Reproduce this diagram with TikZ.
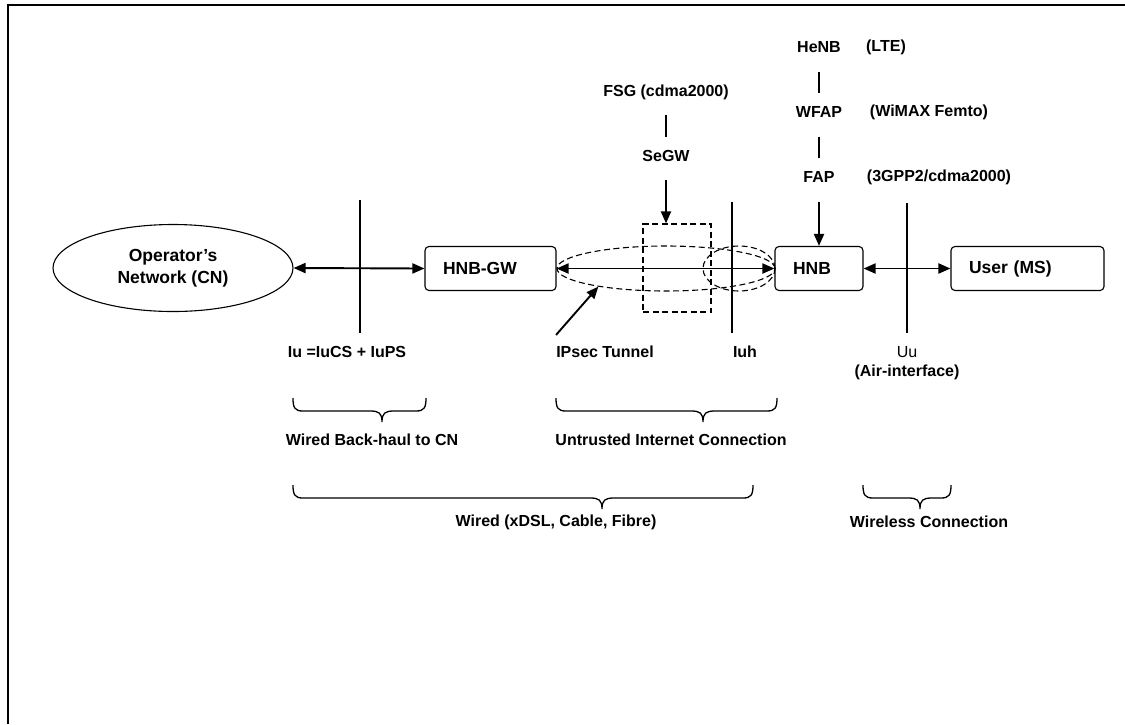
\documentclass[tikz,border=0pt]{standalone}
\usepackage{fontspec}
\setmainfont{Liberation Sans}
\usetikzlibrary{arrows.meta,shapes.geometric,positioning}

\tikzset{
  box/.style={draw,rounded corners=4pt,line width=1.1pt,minimum height=44pt,inner xsep=18pt,align=left,font=\fontsize{17.5}{21}\selectfont\bfseries},
  lbl/.style={font=\fontsize{16}{19}\selectfont\bfseries,inner sep=0pt},
  link/.style={line width=1.9pt,{Triangle[length=12pt,width=10pt]}-{Triangle[length=12pt,width=10pt]}},
  feed/.style={line width=1.9pt,-{Triangle[length=12pt,width=10pt]}},
  bar/.style={line width=1.4pt},
  tube/.style={draw,ellipse,inner sep=0pt,line width=1.1pt,dash pattern=on 6pt off 3.5pt}
}

% brace: left, tip, right, top
\newcommand{\groupbrace}[4]{%
  \draw[line width=1.3pt] (#1,#4) .. controls (#1,#4+10) and (#1+2,#4+13) .. (#1+10,#4+13)
    -- (#2-12,#4+13) .. controls (#2-3,#4+13) and (#2,#4+15) .. (#2,#4+24)
    .. controls (#2,#4+15) and (#2+3,#4+13) .. (#2+12,#4+13)
    -- (#3-10,#4+13) .. controls (#3-2,#4+13) and (#3,#4+10) .. (#3,#4);}

\begin{document}
\begin{tikzpicture}[x=1pt,y=-1pt]
\useasboundingbox (0,0) rectangle (1125,724);
\draw[line width=2.5pt] (8,724) -- (8,5) -- (1125,5);

% main row
\node[draw,ellipse,line width=1.1pt,minimum width=240pt,minimum height=87pt,align=center,
  font=\fontsize{17.5}{22}\selectfont\bfseries] (cn) at (173,268) {Operator’s\\Network (CN)};
\node[box,text width=95pt] (hnbgw) at (490.5,268.5) {HNB-GW};
\node[box,text width=52pt] (hnb) at (819,268.5) {HNB};
\node[box,text width=117pt] (user) at (1027.5,268.5) {User (MS)};

\node[tube,minimum width=218pt,minimum height=45pt] (tunnel) at (666,268.5) {};
\node[tube,minimum width=72pt,minimum height=45pt] (tunnelend) at (739,268.5) {};
\node[draw,dash pattern=on 6pt off 3.5pt,line width=1.1pt,minimum width=68pt,minimum height=88pt] (segwbox) at (677,268) {};

\draw[link] (cn.east) -- (hnbgw.west);
\draw[link] (hnbgw.east) -- (hnb.west);
\draw[link] (hnb.east) -- (user.west);

% interfaces
\draw[bar] (360,200) -- (360,333);
\draw[bar] (732,202) -- (732,333);
\draw[bar] (907,203) -- (907,333);

\node[lbl] (iu) at (347,352) {Iu =IuCS + IuPS};
\node[lbl] (ipsec) at (605,352) {IPsec Tunnel};
\node[lbl] (iuh) at (745,352) {Iuh};
\node[lbl,font=\fontsize{16}{19}\selectfont] (uu) at (907,352) {Uu};
\node[lbl] (air) at (907,372) {(Air-interface)};

\draw[feed] ([yshift=11pt]ipsec.north west) -- (tunnel.195);

% gateways and access points
\node[lbl] (fsg) at (666,92) {FSG (cdma2000)};
\node[lbl] (segw) at (666,156) {SeGW};
\draw[bar,shorten <=15pt,shorten >=13pt] (fsg) -- (segw);
\draw[feed,shorten <=18pt] (segw) -- (segw |- segwbox.north);

\node[lbl] (henb) at (819,47) {HeNB};
\node[lbl] (wfap) at (819,112) {WFAP};
\node[lbl] (fap) at (819,177) {FAP};
\node[lbl] (lte) at (886,47) {(LTE)};
\node[lbl] (wimax) at (929,112) {(WiMAX Femto)};
\node[lbl] (cdma) at (939,177) {(3GPP2/cdma2000)};
\draw[bar,shorten <=19pt,shorten >=13pt] (henb) -- (wfap);
\draw[bar,shorten <=19pt,shorten >=13pt] (wfap) -- (fap);
\draw[feed,shorten <=19pt] (fap) -- (hnb.north);

% braces
\groupbrace{293}{382}{426}{398}
\groupbrace{556}{703}{777}{398}
\groupbrace{293}{602}{753}{485}
\groupbrace{863}{920}{951}{485}

\node[lbl] (backhaul) at (372,440) {Wired Back-haul to CN};
\node[lbl] (untrusted) at (671,440) {Untrusted Internet Connection};
\node[lbl] (wired) at (556,522) {Wired (xDSL, Cable, Fibre)};
\node[lbl] (wireless) at (929,522) {Wireless Connection};
\end{tikzpicture}
\end{document}
